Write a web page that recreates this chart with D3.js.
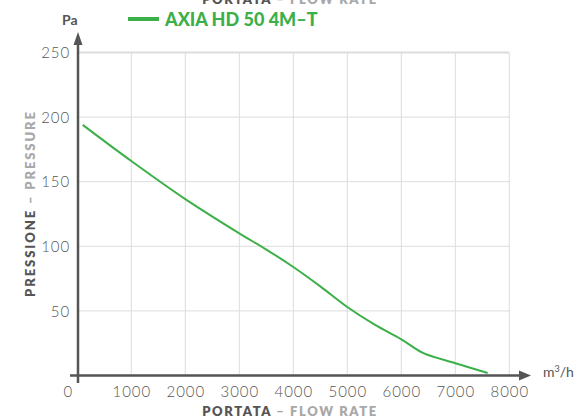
<!DOCTYPE html>
<html><head><meta charset="utf-8">
<script src="https://cdn.jsdelivr.net/npm/d3@7"></script>
<style>
html,body{margin:0;padding:0;background:#fff;}
svg{display:block;}
text{font-family:Lato,"Open Sans",sans-serif;}
</style></head>
<body>
<svg id="chart" width="579" height="418"></svg>
<script>
const flow = [100, 1000, 2000, 3000, 3500, 4000, 4500, 5000, 5500, 6000, 6400, 7000, 7600];
const pressure = [194, 166, 136.5, 110, 97.5, 84, 69, 53, 39.5, 28, 17.5, 9.5, 2];
const xTicks = [0, 1000, 2000, 3000, 4000, 5000, 6000, 7000, 8000];
const yTicks = [50, 100, 150, 200, 250];
const seriesName = "AXIA HD 50 4M\u2013T";

const svg = d3.select("#chart");
const x = d3.scaleLinear().domain([0, 8000]).range([77.3, 509.3]);
const y = d3.scaleLinear().domain([0, 250]).range([375.5, 52.5]);
const green = "#3daf49";
const dark = "#555";
const light = "#a8a8a8";

// grid
const g = svg.append("g");
g.selectAll(".hg").data(yTicks).enter().append("line")
  .attr("x1", x(0)).attr("x2", x(8000))
  .attr("y1", d => y(d)).attr("y2", d => y(d))
  .attr("stroke", "#dcdcdc").attr("stroke-width", d => d === 250 ? 2 : 1);
g.selectAll(".vg").data(xTicks.filter(d => d > 0)).enter().append("line")
  .attr("x1", d => x(d)).attr("x2", d => x(d))
  .attr("y1", y(250)).attr("y2", y(0))
  .attr("stroke", "#dcdcdc").attr("stroke-width", 1);

// axes lines
svg.append("line").attr("x1", 70).attr("x2", 522).attr("y1", y(0)).attr("y2", y(0))
  .attr("stroke", dark).attr("stroke-width", 2.5);
svg.append("path").attr("d", `M519,${y(0)-5} L531,${y(0)} L519,${y(0)+5} Z`).attr("fill", dark);
svg.append("line").attr("x1", x(0)+0.7).attr("x2", x(0)+0.7).attr("y1", 383).attr("y2", 42)
  .attr("stroke", dark).attr("stroke-width", 2.5);
svg.append("path").attr("d", `M${x(0)+0.7-4.5},45 L${x(0)+0.7},32 L${x(0)+0.7+4.5},45 Z`).attr("fill", dark);

// tick labels
const xAxis = d3.axisBottom(x).tickValues(xTicks).tickSize(0).tickPadding(0).tickFormat(d3.format("d"));
const xa = svg.append("g").attr("transform", `translate(0,${y(0)})`).call(xAxis);
xa.select(".domain").remove();
xa.selectAll("text").attr("dy", null).attr("y", 21)
  .style("font-size", "15px").style("font-weight", 300).style("fill", dark)
  .style("letter-spacing", "0.9px").attr("font-family", null);
xa.selectAll(".tick").filter(d => d === 0).select("text").attr("x", -9.5);

const yAxis = d3.axisLeft(y).tickValues(yTicks).tickSize(0).tickPadding(0);
const ya = svg.append("g").attr("transform", `translate(70,0)`).call(yAxis);
ya.select(".domain").remove();
ya.selectAll("text").attr("dy", "0.35em").attr("x", 0)
  .style("font-size", "15px").style("font-weight", 300).style("fill", dark)
  .style("letter-spacing", "0.9px").attr("font-family", null);

// units
svg.append("text").attr("x", 62).attr("y", 25).text("Pa")
  .style("font-size", "14px").style("font-weight", 700).style("fill", dark);
svg.append("text").attr("x", 543).attr("y", 377).html("m<tspan dy='-5' font-size='9'>3</tspan><tspan dy='5'>/h</tspan>")
  .style("font-size", "14px").style("font-weight", 400).style("fill", dark);

// axis titles
function title(sel, a, b) {
  sel.append("tspan").text(a).style("fill", dark);
  sel.append("tspan").text(b).style("fill", light);
}
const xt = svg.append("text").attr("x", 290).attr("y", 416).attr("text-anchor", "middle")
  .style("font-size", "13px").style("font-weight", 800).style("letter-spacing", "1.6px");
title(xt, "PORTATA", " \u2013 FLOW RATE");
const xt2 = svg.append("text").attr("x", 290).attr("y", 4).attr("text-anchor", "middle")
  .style("font-size", "13px").style("font-weight", 800).style("letter-spacing", "1.6px");
title(xt2, "PORTATA", " \u2013 FLOW RATE");
const yt = svg.append("text").attr("transform", "translate(35,203.5) rotate(-90)").attr("text-anchor", "middle")
  .style("font-size", "13px").style("font-weight", 800).style("letter-spacing", "1.9px");
title(yt, "PRESSIONE", " \u2013 PRESSURE");

// legend
svg.append("line").attr("x1", 128).attr("x2", 159).attr("y1", 19).attr("y2", 19)
  .attr("stroke", green).attr("stroke-width", 4);
svg.append("text").attr("x", 165).attr("y", 26).text(seriesName)
  .style("font-size", "18px").style("font-weight", 900).style("fill", green);

// curve
const data = flow.map((f, i) => ({f, p: pressure[i]}));
svg.append("path").datum(data)
  .attr("d", d3.line().x(d => x(d.f)).y(d => y(d.p)).curve(d3.curveCatmullRom.alpha(0.5)))
  .attr("fill", "none").attr("stroke", green).attr("stroke-width", 2);
</script>
</body></html>
